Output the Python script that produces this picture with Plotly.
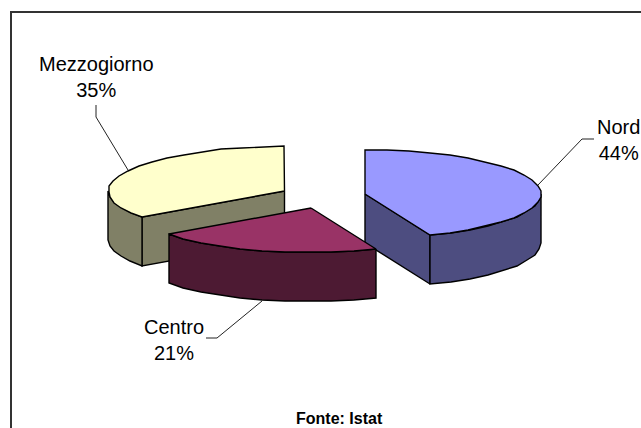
import math
import plotly.graph_objects as go

# Data
categories = ["Nord", "Centro", "Mezzogiorno"]
shares = [44, 21, 35]
source_note = "Fonte: Istat"

# Styles
top_colors = ["#9999FF", "#993366", "#FFFFCC"]
side_colors = ["#4D4D80", "#4D1A33", "#808066"]

# Projection of the tilted, exploded pie (pixel space of the axes)
RX, RY, DEPTH = 176, 44.5, 49
ORIGINS = {"Nord": (365, 194), "Centro": (311, 208), "Mezzogiorno": (284.5, 191)}
LABEL_POS = {"Nord": (618, 140), "Centro": (174, 339.5), "Mezzogiorno": (96.5, 76.5)}
LEADERS = {
    "Nord": [(538, 185), (582, 139), (594, 139)],
    "Centro": [(262, 301), (217, 338), (206, 338)],
    "Mezzogiorno": [(128, 170), (96, 117), (96, 105)],
}
STEP = 7.0


def pt(o, deg, drop=0.0):
    t = math.radians(deg)
    return (round(o[0] + RX * math.sin(t)), round(o[1] - RY * math.cos(t) + drop))


def arc(o, a, b, drop=0.0):
    n = max(2, int(abs(b - a) / STEP))
    return [pt(o, a + (b - a) * i / n, drop) for i in range(n + 1)]


fig = go.Figure()


def poly(points, color):
    xs = [p[0] for p in points] + [points[0][0]]
    ys = [p[1] for p in points] + [points[0][1]]
    fig.add_trace(go.Scatter(x=xs, y=ys, mode="lines", fill="toself", fillcolor=color,
                             line=dict(color="#000000", width=1.4), hoverinfo="skip",
                             showlegend=False))


# Turn shares into angular spans, clockwise from 12 o'clock
total = sum(shares)
spans = {}
start = 0.0
for name, v in zip(categories, shares):
    end = start + 360.0 * v / total
    spans[name] = (start, end)
    start = end


def draw_slice(i):
    name = categories[i]
    o = ORIGINS[name]
    a, b = spans[name]
    side, top = side_colors[i], top_colors[i]
    # flat cut faces that look towards the viewer
    for edge, normal in ((a, a - 90), (b, b + 90)):
        if math.cos(math.radians(normal)) < -1e-6:
            rim = pt(o, edge)
            poly([o, rim, (rim[0], rim[1] + DEPTH), (o[0], o[1] + DEPTH)], side)
    # outer wall, only the front half of the rim
    lo, hi = max(a, 90.0), min(b, 270.0)
    if hi > lo:
        poly(arc(o, lo, hi) + arc(o, hi, lo, DEPTH), side)
    # top face
    poly([o] + arc(o, a, b), top)


for idx in (2, 0, 1):
    draw_slice(idx)

shapes = [
    dict(type="rect", xref="x", yref="y", x0=11, y0=12, x1=700, y1=500,
         line=dict(color="#333333", width=2), layer="below"),
]
for name, pts in LEADERS.items():
    path = "M " + " L ".join(f"{x},{y}" for x, y in pts)
    shapes.append(dict(type="path", path=path, xref="x", yref="y",
                       line=dict(color="#222222", width=1)))

annotations = [
    dict(x=LABEL_POS[n][0], y=LABEL_POS[n][1], xref="x", yref="y",
         text=f"{n}<br>{v}%", showarrow=False, align="center",
         xanchor="center", yanchor="middle",
         font=dict(family="Liberation Sans", size=20, color="#000000"))
    for n, v in zip(categories, shares)
]
annotations.append(dict(x=339, y=418, xref="x", yref="y", text=f"<b>{source_note}</b>",
                        showarrow=False, xanchor="center", yanchor="middle",
                        font=dict(family="Liberation Sans", size=16, color="#000000")))

fig.update_layout(
    width=641, height=428, margin=dict(l=0, r=0, t=0, b=0),
    paper_bgcolor="#FFFFFF", plot_bgcolor="#FFFFFF", showlegend=False,
    xaxis=dict(range=[0, 641], visible=False, fixedrange=True),
    yaxis=dict(range=[428, 0], visible=False, fixedrange=True),
    shapes=shapes, annotations=annotations,
)
fig.write_html("out.html", config=dict(displayModeBar=False),
               post_script="document.body.style.margin='0';document.body.style.overflow='hidden';")
